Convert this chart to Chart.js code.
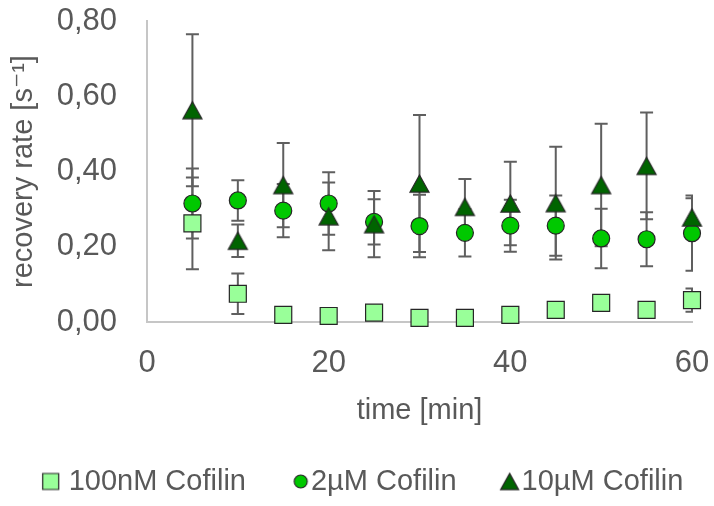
<!DOCTYPE html>
<html>
<head>
<meta charset="utf-8">
<title>FRAP recovery rate</title>
<script src="https://cdn.jsdelivr.net/npm/chart.js@4.4.0/dist/chart.umd.min.js"></script>
<style>
  html, body { margin: 0; padding: 0; background: #fff; }
  #wrap { width: 714px; height: 506px; }
</style>
</head>
<body>
<div id="wrap"><canvas id="chart"></canvas></div>
<script>
// time points (min)
const times = [5, 10, 15, 20, 25, 30, 35, 40, 45, 50, 55, 60];

// recovery rate (1/s) and error per time point
const rate100nM = [0.262, 0.075, 0.019, 0.016, 0.025, 0.011, 0.011, 0.019, 0.032, 0.051, 0.032, 0.058];
const err100nM  = [0.122, 0.054, 0.008, 0.006, 0.010, 0.005, 0.006, 0.010, 0.015, 0.020, 0.012, 0.031];

const rate2uM = [0.315, 0.323, 0.296, 0.315, 0.266, 0.255, 0.237, 0.256, 0.256, 0.222, 0.220, 0.236];
const err2uM  = [0.093, 0.054, 0.071, 0.083, 0.060, 0.083, 0.063, 0.069, 0.080, 0.079, 0.072, 0.100];

const rate10uM = [0.563, 0.216, 0.364, 0.281, 0.260, 0.368, 0.306, 0.315, 0.316, 0.364, 0.415, 0.278];
const err10uM  = [0.202, 0.043, 0.112, 0.090, 0.088, 0.182, 0.074, 0.111, 0.150, 0.163, 0.142, 0.051];

const seriesNames = ["100nM Cofilin", "2µM Cofilin", "10µM Cofilin"];
const xTickValues = [0, 20, 40, 60];
const yTickValues = [0, 0.2, 0.4, 0.6, 0.8];

const TEXT = "#595959";
const AXIS = "#c6c6c6";
const FILLS = ["#99ff99", "#00c800", "#006400"];
const EDGE = "#262626";

Chart.defaults.font.family = "'Liberation Sans', Arial, 'DejaVu Sans', sans-serif";

// small canvas with one marker, used as a pointStyle image
function markerCanvas(shape, size, fill, offset) {
  const w = Math.ceil(2 * (Math.abs(offset) + size / 2 + 2));
  const h = Math.ceil(size + 4);
  const c = document.createElement("canvas");
  c.width = w; c.height = h;
  const g = c.getContext("2d");
  const cx = w / 2 + offset, cy = h / 2;
  g.beginPath();
  if (shape === "rect") {
    g.rect(cx - size / 2, cy - size / 2, size, size);
  } else if (shape === "circle") {
    g.arc(cx, cy, size / 2, 0, Math.PI * 2);
  } else {
    const th = size * 0.9;
    g.moveTo(cx, cy - th / 2);
    g.lineTo(cx + size / 2, cy + th / 2);
    g.lineTo(cx - size / 2, cy + th / 2);
    g.closePath();
  }
  g.fillStyle = fill;
  g.fill();
  g.lineWidth = 1.2;
  g.strokeStyle = EDGE;
  g.stroke();
  return c;
}

const triangleMarker = markerCanvas("triangle", 19, FILLS[2], 0);
const legendIcons = [
  markerCanvas("rect", 16, FILLS[0], 8.25),
  markerCanvas("circle", 13, FILLS[1], 16),
  markerCanvas("triangle", 18, FILLS[2], 14.25)
];

function points(vals) {
  return times.map((t, i) => ({ x: t, y: vals[i] }));
}

// vertical error bars with caps, drawn under all markers
const errorBars = {
  id: "errorBars",
  beforeDatasetsDraw(chart) {
    const { ctx, chartArea: a, scales: { x, y } } = chart;
    ctx.save();
    ctx.beginPath();
    ctx.rect(a.left - 10, a.top - 10, a.right - a.left + 11, a.bottom - a.top + 20);
    ctx.clip();
    ctx.strokeStyle = "#5f5f5f";
    ctx.lineWidth = 2;
    chart.data.datasets.forEach(ds => {
      ds.data.forEach((p, i) => {
        const e = ds.errors[i];
        const px = x.getPixelForValue(p.x);
        const hi = y.getPixelForValue(p.y + e);
        const lo = y.getPixelForValue(p.y - e);
        ctx.beginPath();
        ctx.moveTo(px, hi); ctx.lineTo(px, lo);
        ctx.moveTo(px - 6.5, hi); ctx.lineTo(px + 6.5, hi);
        ctx.moveTo(px - 6.5, lo); ctx.lineTo(px + 6.5, lo);
        ctx.stroke();
      });
    });
    ctx.restore();
  }
};

new Chart(document.getElementById("chart"), {
  type: "scatter",
  data: {
    datasets: [
      {
        label: seriesNames[0],
        data: points(rate100nM),
        errors: err100nM,
        order: 2,
        pointStyle: "rect",
        pointRadius: 12,
        backgroundColor: FILLS[0],
        borderColor: EDGE,
        borderWidth: 1.2,
        clip: false
      },
      {
        label: seriesNames[1],
        data: points(rate2uM),
        errors: err2uM,
        order: 1,
        pointStyle: "circle",
        pointRadius: 8.5,
        backgroundColor: FILLS[1],
        borderColor: EDGE,
        borderWidth: 1.2,
        clip: false
      },
      {
        label: seriesNames[2],
        data: points(rate10uM),
        errors: err10uM,
        order: 0,
        pointStyle: triangleMarker,
        pointRadius: 10,
        backgroundColor: FILLS[2],
        borderColor: EDGE,
        clip: false
      }
    ]
  },
  options: {
    responsive: true,
    maintainAspectRatio: false,
    animation: false,
    events: [],
    layout: { padding: { left: 0, right: 0, top: 21, bottom: 0 } },
    scales: {
      x: {
        type: "linear",
        min: 0,
        max: 60,
        afterBuildTicks: s => { s.ticks = xTickValues.map(v => ({ value: v })); },
        afterFit: s => { s.height = 118; s.paddingLeft = 0; s.paddingRight = 0; },
        grid: { drawOnChartArea: false, drawTicks: false },
        border: { color: AXIS, width: 2 },
        ticks: { color: TEXT, font: { size: 31 }, padding: 23, maxRotation: 0 },
        title: {
          display: true,
          text: "time [min]",
          color: TEXT,
          font: { size: 29 },
          padding: { top: 0, bottom: 11.5 }
        }
      },
      y: {
        min: 0,
        max: 0.8,
        afterBuildTicks: s => { s.ticks = yTickValues.map(v => ({ value: v })); },
        afterFit: s => { s.width = 147; s.paddingTop = 0; s.paddingBottom = 0; },
        grid: { drawOnChartArea: false, drawTicks: false },
        border: { color: AXIS, width: 2 },
        ticks: {
          color: TEXT,
          font: { size: 31 },
          padding: 30,
          callback: v => v.toFixed(2).replace(".", ",")
        },
        title: {
          display: true,
          text: "recovery rate [s⁻¹]",
          color: TEXT,
          font: { size: 29 },
          padding: { top: 7, bottom: 0 }
        }
      },
      // empty right-hand margin of the plot
      yRight: {
        position: "right",
        display: true,
        afterFit: s => { s.width = 22; s.paddingTop = 0; s.paddingBottom = 0; },
        grid: { display: false, drawTicks: false },
        border: { display: false },
        ticks: { display: false }
      }
    },
    plugins: {
      tooltip: { enabled: false },
      legend: {
        position: "bottom",
        reverse: true,
        labels: {
          usePointStyle: true,
          boxWidth: 23.5,
          padding: 27,
          color: TEXT,
          font: { size: 29 },
          generateLabels(chart) {
            const items = Chart.defaults.plugins.legend.labels.generateLabels(chart);
            items.forEach(it => { it.pointStyle = legendIcons[it.datasetIndex]; });
            return items;
          }
        }
      }
    }
  },
  plugins: [errorBars]
});
</script>
</body>
</html>
